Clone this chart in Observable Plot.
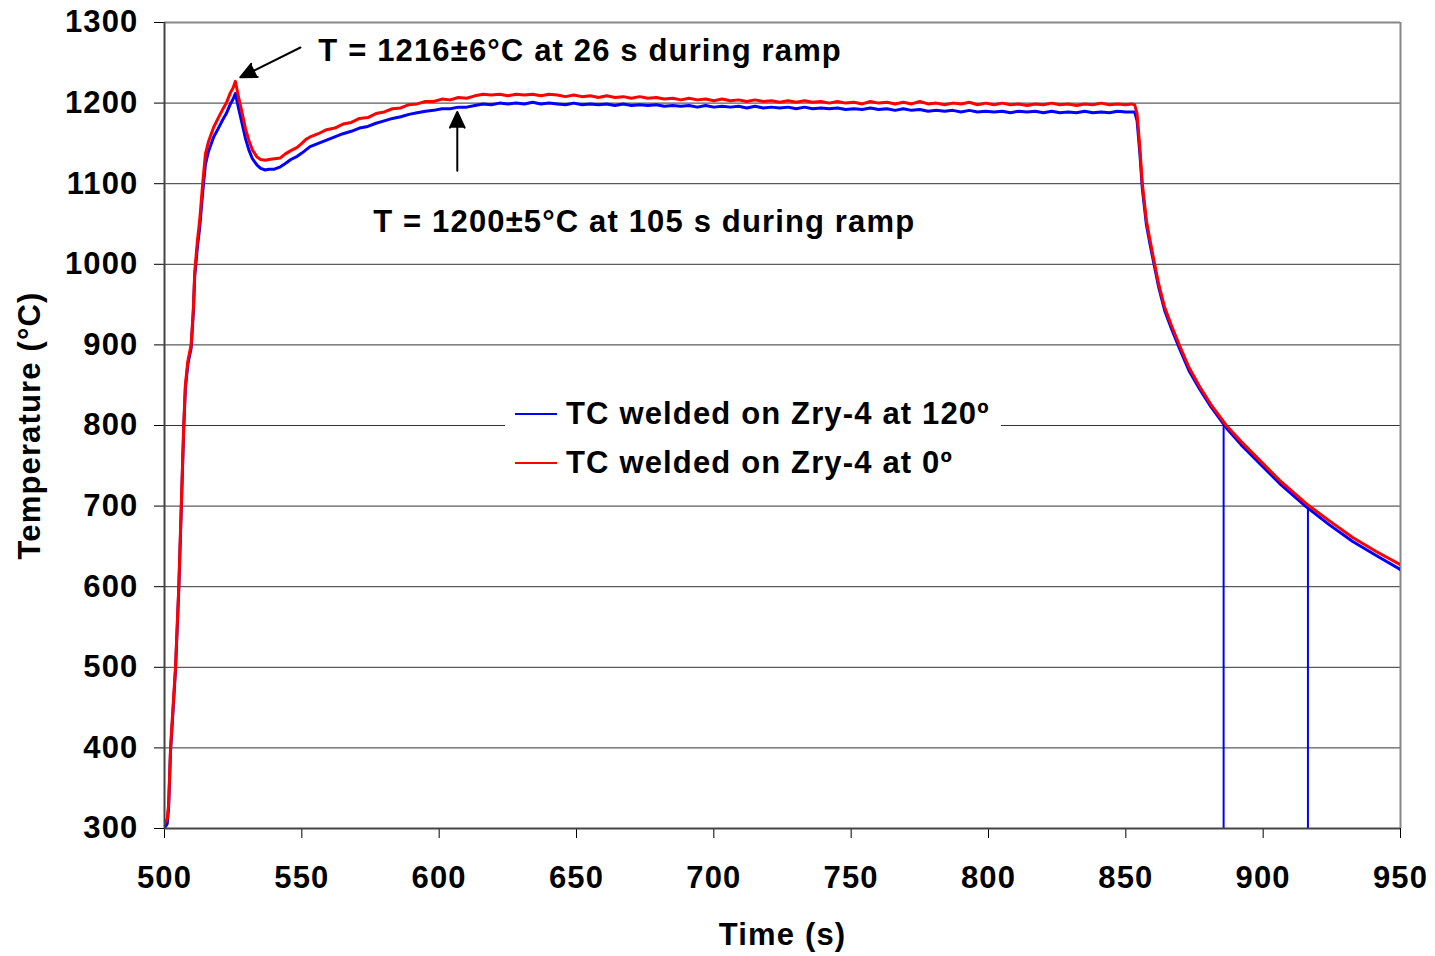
<!DOCTYPE html>
<html>
<head>
<meta charset="utf-8">
<script src="https://cdn.jsdelivr.net/npm/d3@7"></script>
<script src="https://cdn.jsdelivr.net/npm/@observablehq/plot@0.6"></script>
<style>
  html, body { margin: 0; padding: 0; background: #fff; }
  #wrap { position: relative; width: 1435px; height: 956px; font-family: "Liberation Sans", Arial, sans-serif; }
  #legend { position: absolute; left: 505px; top: 397px; width: 496px; height: 88px; background: #fff;
            font-weight: bold; font-size: 31px; letter-spacing: 1.15px; color: #000; }
  .row { position: absolute; left: 0; height: 40px; display: flex; align-items: center; white-space: nowrap; }
  .swatch { display: inline-block; width: 42px; height: 2px; margin-left: 10px; margin-right: 9px; }
</style>
</head>
<body>
<div id="wrap"><div id="legend"></div></div>
<script>
// ---- data ----
const time = [
  500, 500.5, 501, 501.5, 502.2, 503, 504, 505.2, 506.1, 507, 507.6, 508.5, 509.7, 510.5, 511, 512, 512.8, 513.9, 514.9, 516,
  517.9, 519.5, 521, 522.5, 524, 525, 525.8, 527, 528.3, 529.5, 530.7, 532, 533.7, 535, 536.7, 538, 540, 542.2, 544, 546,
  548.3, 550, 551.5,
  553, 556, 559, 562, 565, 568, 571, 574, 577, 580, 583, 586, 589, 592, 595, 598, 601, 604, 607, 610,
  613, 616, 619, 622, 625, 628, 631, 634, 637, 640, 643, 646, 649, 652, 655, 658, 661, 664, 667, 670,
  673, 676, 679, 682, 685, 688, 691, 694, 697, 700, 703, 706, 709, 712, 715, 718, 721, 724, 727, 730,
  733, 736, 739, 742, 745, 748, 751, 754, 757, 760, 763, 766, 769, 772, 775, 778, 781, 784, 787, 790,
  793, 796, 799, 802, 805, 808, 811, 814, 817, 820, 823, 826, 829, 832, 835, 838, 841, 844, 847, 850, 852,
  853.2, 854.1, 855.1, 856, 857.5, 858.8, 860.5, 862, 864.1, 866.5, 869.6, 873, 876.9, 881, 886.6, 892, 898.7, 906,
  915.7, 924, 932.6, 941, 949.6, 950
];
// TC welded on Zry-4 at 120º (blue)
const tc120 = [
  301, 303, 306, 326, 396, 440, 496, 596, 695, 796, 846, 876, 896, 940, 985, 1022, 1045, 1089, 1124, 1140,
  1158, 1168, 1178, 1187, 1199, 1205, 1212, 1193, 1174, 1156, 1142, 1131, 1123, 1119, 1117, 1118, 1118, 1121, 1125, 1130,
  1134, 1138, 1142,
  1146, 1150, 1154, 1158, 1162, 1165, 1169, 1171, 1175, 1178, 1181, 1183, 1186, 1188, 1190, 1191, 1193, 1193, 1195, 1195,
  1197, 1199, 1198, 1200, 1199, 1200, 1199, 1201, 1199, 1200, 1199, 1198, 1200, 1198, 1199, 1198, 1199, 1197, 1199, 1197,
  1198, 1197, 1198, 1196, 1197, 1196, 1197, 1195, 1197, 1195, 1196, 1195, 1196, 1194, 1196, 1194, 1195, 1194, 1195, 1193,
  1195, 1193, 1194, 1193, 1194, 1192, 1193, 1192, 1194, 1192, 1193, 1191, 1193, 1191, 1192, 1190, 1191, 1190, 1191, 1189,
  1191, 1189, 1190, 1189, 1190, 1188, 1190, 1189, 1190, 1188, 1190, 1188, 1189, 1188, 1190, 1188, 1189, 1188, 1190, 1189, 1189,
  1189, 1178, 1138, 1094, 1049, 1025, 996, 971, 943, 921, 895, 868, 845, 823, 797, 776, 753, 728,
  699, 677, 656, 639, 622, 621
];
// TC welded on Zry-4 at 0º (red)
const tc0 = [
  307, 309, 312, 330, 400, 445, 500, 600, 700, 800, 850, 880, 900, 945, 990, 1030, 1054, 1100, 1137, 1152,
  1170, 1181, 1191, 1200, 1213, 1219, 1227, 1207, 1187, 1168, 1154, 1142, 1133, 1130, 1129, 1130, 1131, 1132, 1137, 1141,
  1145, 1150, 1155,
  1158, 1162, 1167, 1169, 1174, 1176, 1181, 1182, 1187, 1189, 1193, 1194, 1198, 1199, 1202, 1202, 1205, 1204, 1207, 1206,
  1209, 1211, 1210, 1211, 1209, 1211, 1210, 1211, 1209, 1211, 1210, 1208, 1210, 1208, 1209, 1207, 1209, 1207, 1208, 1206,
  1208, 1206, 1207, 1205, 1206, 1204, 1206, 1204, 1205, 1203, 1205, 1203, 1204, 1202, 1204, 1202, 1203, 1201, 1203, 1201,
  1203, 1201, 1202, 1200, 1202, 1200, 1201, 1199, 1202, 1200, 1201, 1199, 1201, 1199, 1202, 1199, 1200, 1198, 1200, 1199,
  1201, 1198, 1200, 1198, 1200, 1198, 1199, 1197, 1199, 1198, 1200, 1198, 1199, 1197, 1199, 1198, 1200, 1198, 1199, 1198, 1199,
  1198, 1187, 1145, 1100, 1054, 1030, 1000, 975, 947, 925, 899, 872, 848, 826, 800, 780, 757, 732,
  703, 682, 661, 644, 628, 627
];
// signal dropouts of the 120º thermocouple
const dropTime = [885.6, 916.3];
const dropTop = [801, 700];

const xTicks = [500, 550, 600, 650, 700, 750, 800, 850, 900, 950];
const yTicks = [300, 400, 500, 600, 700, 800, 900, 1000, 1100, 1200, 1300];
const gridY = [400, 500, 600, 700, 800, 900, 1000, 1100, 1200];

const seriesNames = ["TC welded on Zry-4 at 120º", "TC welded on Zry-4 at 0º"];
const seriesColors = ["#0000ff", "#ff0000"];

const annoText = ["T = 1216±6°C at 26 s during ramp", "T = 1200±5°C at 105 s during ramp"];
const annoX = [556, 576];
const annoY = [1265, 1053];
const arrowX1 = [549.5, 606.6];
const arrowY1 = [1269, 1116];
const arrowX2 = [527.6, 606.6];
const arrowY2 = [1232, 1189];

const xLabel = "Time (s)";
const yLabel = "Temperature (°C)";

// ---- build tables ----
const rows = time.map((t, i) => ({t, tc120: tc120[i], tc0: tc0[i]}));
const drops = dropTime.map((t, i) => ({t, top: dropTop[i]}));
const annos = annoText.map((text, i) => ({text, x: annoX[i], y: annoY[i]}));
const arrows = arrowX1.map((x1, i) => ({x1, y1: arrowY1[i], x2: arrowX2[i], y2: arrowY2[i]}));

const chart = Plot.plot({
  width: 1435,
  height: 956,
  marginLeft: 164,
  marginRight: 35,
  marginTop: 22,
  marginBottom: 128,
  style: {fontFamily: "'Liberation Sans', Arial, sans-serif", fontSize: "31px", fontWeight: "bold", letterSpacing: "1.15px", color: "#000", background: "#fff", overflow: "visible"},
  x: {domain: [500, 950], ticks: xTicks, tickSize: 10, tickPadding: 27, label: null, tickFormat: d => String(d)},
  y: {domain: [300, 1300], ticks: yTicks, tickSize: 10, tickPadding: 16, label: null, tickFormat: d => String(d)},
  marks: [
    Plot.ruleY(gridY, {stroke: "#333", strokeWidth: 1}),
    Plot.ruleY([1300], {stroke: "#888", strokeWidth: 2}),
    Plot.ruleX([950], {stroke: "#888", strokeWidth: 2}),
    Plot.line(rows, {x: "t", y: "tc120", stroke: seriesColors[0], strokeWidth: 3, clip: true}),
    Plot.ruleX(drops, {x: "t", y1: "top", y2: 300, stroke: seriesColors[0], strokeWidth: 2}),
    Plot.line(rows, {x: "t", y: "tc0", stroke: seriesColors[1], strokeWidth: 3, clip: true}),
    Plot.ruleX([500], {stroke: "#444", strokeWidth: 2}),
    Plot.ruleY([300], {stroke: "#444", strokeWidth: 2}),
    Plot.arrow(arrows, {x1: "x1", y1: "y1", x2: "x2", y2: "y2", stroke: "#000", fill: "#000", strokeWidth: 2, headLength: 13, headAngle: 50}),
    Plot.text(annos, {x: "x", y: "y", text: "text", textAnchor: "start", lineAnchor: "middle", fontSize: 31, fontWeight: "bold", fill: "#000"}),
    Plot.text([xLabel], {frameAnchor: "bottom", textAnchor: "middle", dy: 107, lineAnchor: "middle", fontSize: 31, fontWeight: "bold", fill: "#000"}),
    Plot.text([yLabel], {frameAnchor: "left", textAnchor: "middle", dx: -134, rotate: -90, lineAnchor: "middle", fontSize: 31, fontWeight: "bold", fill: "#000"})
  ]
});

document.getElementById("wrap").prepend(chart);

// legend (inside plot area, white box)
const legend = document.getElementById("legend");
seriesNames.forEach((name, i) => {
  const row = document.createElement("div");
  row.className = "row";
  row.style.top = (i === 0 ? -3 : 46) + "px";
  const sw = document.createElement("span");
  sw.className = "swatch";
  sw.style.background = seriesColors[i];
  const lab = document.createElement("span");
  lab.textContent = name;
  row.append(sw, lab);
  legend.append(row);
});
</script>
</body>
</html>
